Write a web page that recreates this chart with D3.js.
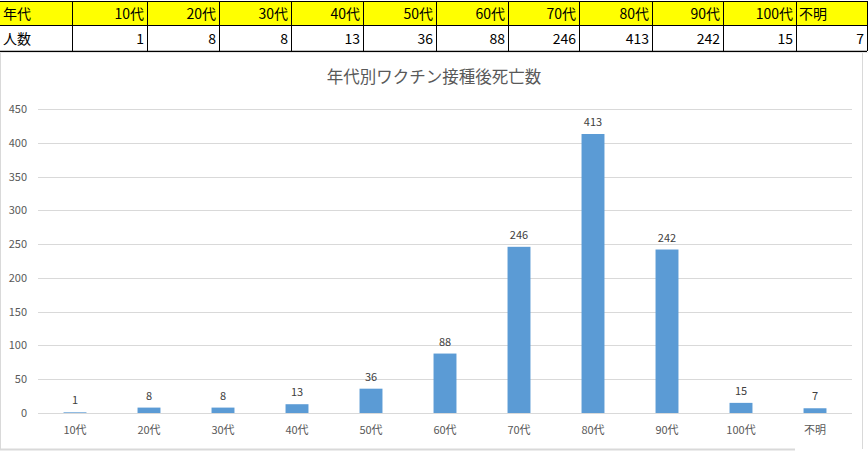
<!DOCTYPE html>
<html><head><meta charset="utf-8">
<script src="https://cdn.jsdelivr.net/npm/d3@7"></script>
<style>body{margin:0;background:#fff;}svg{display:block;font-family:"Noto Sans CJK JP","Noto Sans",sans-serif;}</style>
</head><body>
<script>
const categories = ["10代","20代","30代","40代","50代","60代","70代","80代","90代","100代","不明"];
const values = [1,8,8,13,36,88,246,413,242,15,7];
const yTicks = [0,50,100,150,200,250,300,350,400,450];
const title = "年代別ワクチン接種後死亡数";
const headerLabel = "年代";
const rowLabel = "人数";

const W = 868, H = 451;
const svg = d3.select("body").append("svg").attr("width", W).attr("height", H);

// table
const colEdges = [0,72,147,219,291,363,436,508,579,652,723,796,867];
const rowY = [1,25,51];
const tbl = svg.append("g");
tbl.append("rect").attr("x",0).attr("y",rowY[0]).attr("width",867).attr("height",rowY[1]-rowY[0]).attr("fill","#ffff00");
const headers = [headerLabel].concat(categories);
const row2 = [rowLabel].concat(values.map(String));
headers.forEach((h,i)=>{
  const left = (i===0 || h==="不明");
  tbl.append("text").attr("x", left ? colEdges[i]+3 : colEdges[i+1]-3).attr("y",19)
    .attr("text-anchor", left?"start":"end").attr("font-size",14).attr("fill","#000").text(h);
});
row2.forEach((h,i)=>{
  const left = i===0;
  tbl.append("text").attr("x", left ? colEdges[i]+3 : colEdges[i+1]-3).attr("y",44)
    .attr("text-anchor", left?"start":"end").attr("font-size",14).attr("fill","#000").text(h);
});
rowY.forEach(y=>tbl.append("line").attr("x1",0).attr("x2",867).attr("y1",y+0.5).attr("y2",y+0.5).attr("stroke","#000").attr("stroke-width", y===51?1.5:1));
colEdges.slice(1).forEach(x=>tbl.append("line").attr("x1",x+0.5).attr("x2",x+0.5).attr("y1",rowY[0]).attr("y2",rowY[2]).attr("stroke","#000"));

// gap
svg.append("rect").attr("x",0).attr("y",52).attr("width",868).attr("height",1).attr("fill","#e6e6e6");
// chart frame
svg.append("line").attr("x1",0.5).attr("x2",0.5).attr("y1",53).attr("y2",449).attr("stroke","#d9d9d9");
svg.append("line").attr("x1",862.5).attr("x2",862.5).attr("y1",53).attr("y2",449).attr("stroke","#d9d9d9");
svg.append("line").attr("x1",0).attr("x2",795).attr("y1",449.5).attr("y2",449.5).attr("stroke","#d9d9d9").attr("stroke-width",2);

// scales
const x = d3.scaleBand().domain(categories).range([38,852]).paddingInner(0.69).paddingOuter(0.345);
const y = d3.scaleLinear().domain([0,450]).range([413,109]);

svg.append("text").attr("x",434).attr("y",83).attr("text-anchor","middle").attr("font-size",16.5).attr("fill","#595959").text(title);

// gridlines
const grid = svg.append("g");
grid.selectAll("line").data(yTicks).join("line")
  .attr("x1",38).attr("x2",852).attr("y1",d=>Math.round(y(d))+0.5).attr("y2",d=>Math.round(y(d))+0.5)
  .attr("stroke","#d9d9d9");

// y axis
const yAxis = d3.axisLeft(y).tickValues(yTicks).tickSize(0).tickPadding(11);
const ya = svg.append("g").attr("transform","translate(38,0)").call(yAxis);
ya.select(".domain").remove();
ya.selectAll("text").attr("font-size",11).attr("fill","#595959").attr("font-family","'Noto Sans CJK JP',sans-serif");

// bars
svg.append("g").selectAll("rect").data(values).join("rect")
  .attr("x",(d,i)=>x(categories[i])).attr("width",x.bandwidth())
  .attr("y",d=>y(d)).attr("height",d=>y(0)-y(d)).attr("fill","#5b9bd5");

// value labels
svg.append("g").selectAll("text").data(values).join("text")
  .attr("x",(d,i)=>x(categories[i])+x.bandwidth()/2).attr("y",d=>y(d)-8)
  .attr("text-anchor","middle").attr("font-size",11).attr("fill","#404040").text(d=>d);

// x axis
const xAxis = d3.axisBottom(x).tickSize(0).tickPadding(13);
const xa = svg.append("g").attr("transform","translate(0,413)").call(xAxis);
xa.select(".domain").remove();
xa.selectAll("text").attr("font-size",11).attr("fill","#595959").attr("font-family","'Noto Sans CJK JP',sans-serif");
</script>
</body></html>
